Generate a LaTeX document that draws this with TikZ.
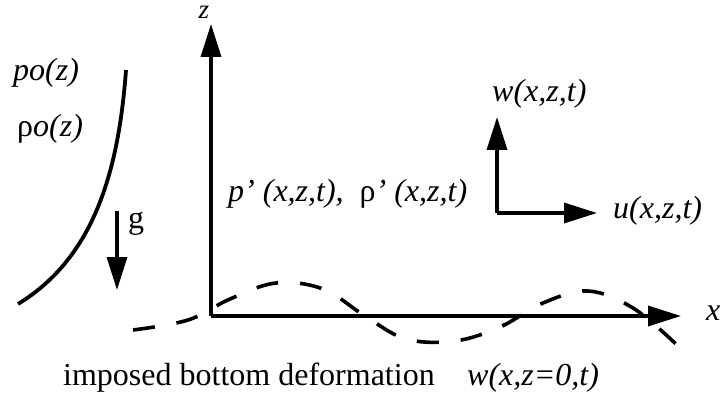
\documentclass[tikz,border=0pt]{standalone}
\usepackage{fontspec}
\setmainfont{Liberation Serif}
\usetikzlibrary{arrows.meta}
\begin{document}
\begin{tikzpicture}[x=1pt,y=-1pt,
  lbl/.style={inner sep=0pt,anchor=base west,font=\fontsize{32}{38}\selectfont},
  thick line/.style={line width=3.4pt},
  axisarrow/.style={thick line,-{Triangle[length=33pt,width=20pt]}},
  wave/.style={line width=3.6pt,dash pattern=on 22pt off 22pt}]
\useasboundingbox (0,0) rectangle (722,398);
% coordinates
\coordinate (O) at (211,316);
\coordinate (ztip) at (211,24);
\coordinate (xtip) at (681,316);
\coordinate (c) at (497,213);
\coordinate (wtip) at (497,117);
\coordinate (utip) at (597,213);
\coordinate (gtop) at (117,211);
\coordinate (gtip) at (117,290);
\coordinate (ctop) at (126,70);
\coordinate (cbot) at (18,304);
% main axes
\draw[axisarrow] (O) -- (ztip);
\draw[axisarrow] (O) -- (xtip);
% small velocity axes
\draw[axisarrow] (c) -- (wtip);
\draw[axisarrow] (c) -- (utip);
% gravity arrow
\draw[axisarrow] (gtop) -- (gtip);
% background profile curve
\draw[line width=3.8pt] (ctop) .. controls (118,180) and (90,260) .. (cbot);
% bottom deformation
\draw[wave] plot[smooth,tension=0.6] coordinates {(133,330) (188,320) (230,299) (276,283) (323,289) (365,316) (406,339) (455,341) (500,327) (543,303) (588,291) (633,308) (677,345)};
% labels
\node[lbl,anchor=base,font=\fontsize{27}{30}\selectfont] (zl) at (204,19) {\textit{z}};
\node[lbl] (xl) at (706,320) {\textit{x}};
\node[lbl] (p0) at (13,81) {\textit{po(z)}};
\node[lbl] (r0) at (17,137) {ρ\textit{o(z)}};
\node[lbl] (gl) at (128,228) {g};
\node[lbl] (pp) at (228,201) {\textit{p’ (x,z,t),} \ ρ\textit{’ (x,z,t)}};
\node[lbl] (wl) at (492,102) {\textit{w(x,z,t)}};
\node[lbl] (ul) at (613,218) {\textit{u(x,z,t)}};
\node[lbl] (bt) at (63,385) {imposed bottom deformation};
\node[lbl] (bw) at (467,385) {\textit{w(x,z=0,t)}};
\end{tikzpicture}
\end{document}
